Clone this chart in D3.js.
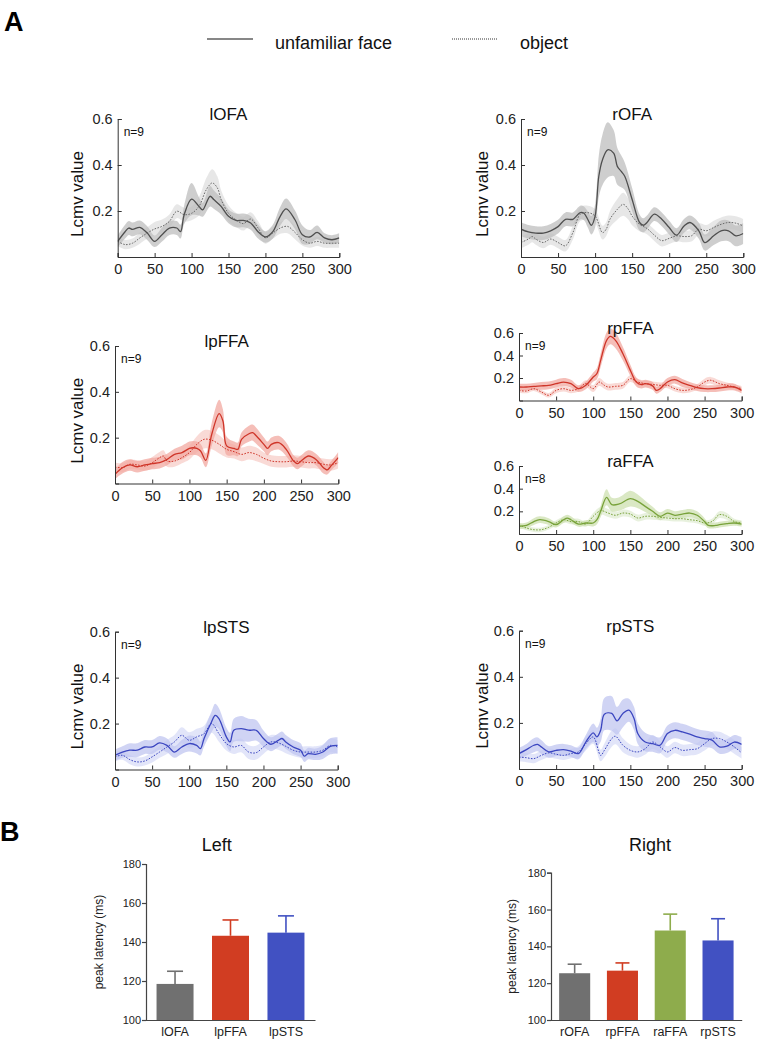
<!DOCTYPE html>
<html><head><meta charset="utf-8">
<script src="https://cdnjs.cloudflare.com/ajax/libs/d3/7.8.5/d3.min.js"></script>
<style>
body{margin:0;background:#fff;}
svg{display:block;font-family:"Liberation Sans",Arial,Helvetica,sans-serif;}
</style>
</head><body>
<svg id="c" width="766" height="1049"></svg>
<script>
// ---------- DATA ----------
const timeTicks = [0, 50, 100, 150, 200, 250, 300];
const lcmvTicks = [0.2, 0.4, 0.6];
const legendLabels = ["unfamiliar face", "object"];

// [time ms, mean, half-width of shaded band]
const lOFA_face = [[0,0.068,0.025],[10,0.11,0.03],[15,0.126,0.03],[20,0.12,0.03],[30,0.129,0.03],[40,0.104,0.03],[50,0.068,0.025],[60,0.097,0.03],[70,0.126,0.03],[80,0.126,0.03],[85,0.11,0.03],[90,0.184,0.04],[100,0.252,0.07],[110,0.22,0.04],[115,0.205,0.03],[125,0.264,0.045],[130,0.25,0.04],[140,0.22,0.035],[150,0.177,0.03],[160,0.159,0.03],[170,0.159,0.03],[180,0.148,0.03],[190,0.11,0.03],[200,0.087,0.025],[210,0.11,0.03],[220,0.177,0.04],[228,0.209,0.045],[240,0.162,0.04],[250,0.097,0.04],[260,0.087,0.03],[270,0.107,0.03],[280,0.083,0.02],[290,0.075,0.02],[300,0.083,0.02]];
const lOFA_obj = [[0,0.068,0.02],[10,0.054,0.02],[20,0.06,0.02],[30,0.083,0.025],[40,0.104,0.025],[50,0.122,0.03],[60,0.133,0.03],[70,0.155,0.03],[80,0.199,0.03],[90,0.184,0.03],[100,0.19,0.03],[110,0.22,0.04],[120,0.293,0.05],[128,0.322,0.06],[135,0.3,0.05],[140,0.25,0.04],[150,0.19,0.035],[160,0.162,0.03],[170,0.145,0.03],[180,0.165,0.03],[190,0.126,0.03],[200,0.083,0.025],[210,0.104,0.025],[220,0.126,0.025],[230,0.133,0.03],[240,0.107,0.03],[250,0.075,0.025],[260,0.06,0.02],[270,0.068,0.02],[280,0.06,0.02],[290,0.06,0.02],[300,0.06,0.02]];

const rOFA_face = [[0,0.121,0.03],[10,0.109,0.03],[20,0.104,0.03],[30,0.104,0.03],[40,0.114,0.03],[50,0.132,0.03],[60,0.164,0.03],[70,0.164,0.03],[80,0.193,0.03],[85,0.19,0.03],[90,0.164,0.035],[95,0.138,0.04],[100,0.178,0.05],[105,0.351,0.09],[110,0.423,0.11],[117,0.466,0.12],[125,0.452,0.1],[130,0.394,0.08],[135,0.373,0.07],[140,0.351,0.06],[150,0.25,0.05],[160,0.15,0.035],[165,0.138,0.03],[170,0.15,0.03],[180,0.186,0.03],[190,0.164,0.03],[200,0.128,0.03],[210,0.095,0.03],[220,0.135,0.03],[228,0.15,0.03],[240,0.114,0.035],[248,0.063,0.035],[260,0.092,0.04],[270,0.114,0.045],[280,0.114,0.045],[290,0.092,0.045],[300,0.102,0.045]];
const rOFA_obj = [[0,0.063,0.025],[10,0.078,0.025],[15,0.089,0.025],[20,0.078,0.025],[30,0.063,0.025],[40,0.078,0.025],[50,0.063,0.025],[60,0.049,0.025],[70,0.106,0.03],[80,0.186,0.03],[90,0.193,0.03],[100,0.178,0.03],[110,0.106,0.03],[115,0.121,0.03],[120,0.164,0.035],[130,0.207,0.045],[138,0.229,0.05],[145,0.207,0.045],[150,0.178,0.04],[160,0.142,0.03],[170,0.124,0.025],[180,0.095,0.025],[190,0.071,0.025],[200,0.081,0.025],[210,0.092,0.025],[220,0.089,0.025],[230,0.092,0.025],[240,0.121,0.025],[250,0.114,0.025],[260,0.128,0.03],[270,0.142,0.03],[280,0.15,0.03],[290,0.147,0.03],[300,0.135,0.03]];

const lpFFA_face = [[0,0.04,0.02],[10,0.069,0.025],[20,0.081,0.025],[30,0.073,0.025],[40,0.081,0.025],[50,0.087,0.025],[60,0.091,0.025],[70,0.105,0.025],[80,0.127,0.025],[90,0.135,0.03],[100,0.153,0.03],[105,0.156,0.03],[110,0.153,0.03],[115,0.142,0.03],[122,0.101,0.03],[130,0.215,0.05],[140,0.305,0.06],[145,0.273,0.05],[150,0.164,0.04],[160,0.153,0.03],[165,0.149,0.03],[170,0.193,0.03],[180,0.217,0.035],[185,0.222,0.035],[190,0.207,0.035],[200,0.171,0.03],[205,0.153,0.03],[210,0.171,0.03],[220,0.178,0.03],[230,0.149,0.03],[240,0.098,0.025],[245,0.087,0.025],[250,0.098,0.025],[260,0.12,0.025],[270,0.105,0.025],[280,0.069,0.025],[285,0.059,0.02],[290,0.076,0.02],[300,0.113,0.025]];
const lpFFA_obj = [[0,0.072,0.02],[10,0.069,0.02],[20,0.084,0.02],[30,0.081,0.02],[40,0.076,0.02],[50,0.091,0.025],[60,0.113,0.025],[65,0.12,0.025],[70,0.098,0.025],[80,0.098,0.025],[90,0.113,0.025],[100,0.135,0.03],[110,0.171,0.035],[120,0.193,0.04],[130,0.189,0.04],[140,0.171,0.04],[150,0.149,0.035],[160,0.139,0.03],[170,0.127,0.03],[180,0.135,0.03],[190,0.127,0.03],[200,0.11,0.025],[210,0.098,0.025],[220,0.095,0.025],[230,0.095,0.025],[240,0.098,0.025],[250,0.095,0.025],[260,0.091,0.025],[270,0.091,0.025],[280,0.084,0.025],[290,0.081,0.025],[300,0.091,0.025]];

const rpFFA_face = [[0,0.12,0.03],[10,0.12,0.03],[20,0.126,0.03],[30,0.13,0.035],[40,0.135,0.035],[50,0.15,0.035],[60,0.164,0.035],[70,0.15,0.035],[80,0.105,0.03],[90,0.135,0.035],[100,0.209,0.04],[105,0.24,0.05],[110,0.357,0.06],[118,0.535,0.07],[123,0.57,0.07],[130,0.535,0.07],[140,0.416,0.06],[150,0.268,0.05],[158,0.164,0.04],[165,0.141,0.035],[170,0.15,0.035],[180,0.13,0.035],[185,0.09,0.03],[190,0.105,0.03],[200,0.164,0.035],[210,0.185,0.035],[220,0.156,0.035],[230,0.135,0.03],[240,0.114,0.03],[250,0.105,0.03],[260,0.105,0.03],[270,0.111,0.03],[280,0.12,0.03],[290,0.12,0.03],[300,0.09,0.025]];
const rpFFA_obj = [[0,0.09,0.02],[10,0.084,0.02],[20,0.105,0.02],[30,0.076,0.02],[40,0.046,0.02],[50,0.09,0.025],[60,0.105,0.025],[70,0.09,0.025],[80,0.105,0.025],[90,0.15,0.03],[100,0.105,0.03],[108,0.164,0.035],[115,0.135,0.03],[120,0.12,0.03],[130,0.126,0.03],[140,0.135,0.03],[150,0.194,0.03],[160,0.164,0.03],[170,0.15,0.025],[180,0.143,0.025],[190,0.135,0.025],[200,0.135,0.025],[210,0.105,0.025],[220,0.09,0.025],[230,0.096,0.025],[240,0.12,0.025],[250,0.164,0.03],[258,0.18,0.03],[270,0.15,0.03],[280,0.135,0.025],[290,0.12,0.025],[300,0.105,0.025]];

const raFFA_face = [[0,0.068,0.025],[10,0.076,0.025],[20,0.11,0.03],[28,0.126,0.03],[40,0.11,0.03],[50,0.082,0.025],[60,0.126,0.03],[65,0.14,0.03],[70,0.126,0.03],[80,0.088,0.025],[90,0.097,0.025],[100,0.097,0.03],[105,0.126,0.04],[110,0.2,0.05],[118,0.324,0.07],[125,0.259,0.06],[135,0.265,0.06],[150,0.312,0.07],[160,0.288,0.06],[170,0.244,0.05],[180,0.2,0.04],[190,0.156,0.035],[200,0.185,0.035],[210,0.165,0.035],[220,0.176,0.035],[230,0.185,0.035],[240,0.165,0.035],[250,0.11,0.03],[255,0.076,0.025],[265,0.076,0.025],[270,0.082,0.025],[280,0.091,0.025],[290,0.097,0.025],[300,0.088,0.025]];
const raFFA_obj = [[0,0.082,0.02],[10,0.053,0.02],[20,0.038,0.02],[30,0.038,0.02],[40,0.059,0.02],[50,0.097,0.025],[60,0.126,0.025],[70,0.11,0.025],[80,0.11,0.025],[90,0.088,0.025],[100,0.156,0.03],[110,0.206,0.035],[120,0.185,0.035],[130,0.165,0.03],[140,0.185,0.03],[150,0.176,0.03],[160,0.141,0.03],[170,0.156,0.03],[180,0.156,0.03],[190,0.147,0.025],[200,0.141,0.025],[210,0.135,0.025],[220,0.135,0.025],[230,0.126,0.025],[240,0.118,0.025],[250,0.097,0.025],[260,0.11,0.025],[270,0.171,0.03],[280,0.156,0.03],[290,0.11,0.025],[300,0.097,0.025]];

const lpSTS_face = [[0,0.062,0.025],[10,0.076,0.025],[20,0.084,0.03],[30,0.084,0.03],[40,0.098,0.03],[50,0.098,0.03],[60,0.116,0.03],[70,0.105,0.03],[80,0.076,0.025],[90,0.098,0.03],[100,0.113,0.035],[110,0.105,0.035],[115,0.091,0.03],[120,0.135,0.035],[130,0.207,0.045],[135,0.236,0.05],[140,0.222,0.045],[150,0.142,0.04],[155,0.12,0.04],[160,0.171,0.05],[170,0.178,0.055],[180,0.171,0.05],[190,0.171,0.045],[200,0.135,0.035],[210,0.11,0.03],[220,0.127,0.03],[225,0.135,0.03],[230,0.12,0.03],[240,0.098,0.03],[250,0.084,0.03],[255,0.058,0.025],[260,0.069,0.025],[270,0.066,0.025],[280,0.076,0.03],[290,0.101,0.035],[300,0.105,0.035]];
const lpSTS_obj = [[0,0.055,0.02],[10,0.062,0.02],[20,0.043,0.02],[30,0.033,0.02],[40,0.037,0.02],[50,0.055,0.025],[60,0.076,0.025],[70,0.098,0.03],[80,0.12,0.03],[90,0.149,0.035],[100,0.127,0.035],[110,0.142,0.035],[120,0.156,0.035],[130,0.2,0.04],[140,0.156,0.035],[150,0.113,0.03],[160,0.098,0.03],[170,0.105,0.03],[180,0.076,0.03],[190,0.073,0.03],[200,0.098,0.03],[210,0.12,0.03],[220,0.116,0.03],[230,0.101,0.03],[240,0.084,0.025],[250,0.076,0.025],[260,0.076,0.025],[270,0.076,0.025],[280,0.084,0.025],[290,0.105,0.03],[300,0.098,0.03]];

const rpSTS_face = [[0,0.067,0.025],[10,0.084,0.025],[20,0.103,0.03],[25,0.107,0.03],[30,0.096,0.03],[40,0.074,0.025],[50,0.081,0.025],[60,0.084,0.025],[70,0.078,0.025],[80,0.067,0.025],[90,0.117,0.03],[100,0.157,0.04],[105,0.139,0.04],[110,0.168,0.05],[115,0.238,0.07],[125,0.241,0.075],[132,0.209,0.06],[140,0.241,0.06],[148,0.255,0.05],[155,0.219,0.05],[160,0.154,0.045],[170,0.117,0.04],[180,0.11,0.035],[190,0.103,0.035],[200,0.154,0.035],[210,0.168,0.035],[220,0.161,0.035],[230,0.151,0.035],[240,0.139,0.035],[250,0.132,0.035],[260,0.125,0.035],[270,0.096,0.03],[280,0.099,0.03],[290,0.117,0.03],[300,0.107,0.03]];
const rpSTS_obj = [[0,0.052,0.02],[10,0.049,0.02],[20,0.045,0.02],[30,0.059,0.02],[40,0.07,0.02],[50,0.064,0.02],[60,0.059,0.02],[70,0.067,0.02],[80,0.074,0.025],[90,0.11,0.03],[100,0.139,0.03],[110,0.059,0.025],[115,0.081,0.03],[125,0.132,0.035],[130,0.142,0.035],[140,0.103,0.03],[150,0.081,0.025],[160,0.074,0.025],[170,0.088,0.025],[180,0.117,0.03],[190,0.096,0.025],[200,0.074,0.025],[210,0.093,0.025],[220,0.081,0.025],[230,0.084,0.025],[240,0.088,0.025],[250,0.11,0.03],[260,0.132,0.03],[270,0.132,0.03],[280,0.117,0.03],[290,0.096,0.03],[300,0.07,0.025]];

// Panel B: peak latency (ms)
const leftRegions = ["lOFA", "lpFFA", "lpSTS"];
const leftLatency = [118.5, 143.2, 144.8];
const leftErr = [6.5, 8.1, 8.6];
const rightRegions = ["rOFA", "rpFFA", "raFFA", "rpSTS"];
const rightLatency = [125.4, 126.8, 148.6, 143.2];
const rightErr = [4.9, 4.2, 8.9, 11.8];
const latencyTicks = [100, 120, 140, 160, 180];

// ---------- STYLE / LAYOUT ----------
const palette = {
  gray:  {line:"#4f4f4f", obj:"#6a6a6a", band:"#bdbdbd", objBand:"#e4e4e4", bar:"#707070"},
  red:   {line:"#cf3529", obj:"#cf3529", band:"#f2a8a0", objBand:"#f8d6d2", bar:"#d13d22"},
  green: {line:"#78a23a", obj:"#78a23a", band:"#cde0b0", objBand:"#e6efda", bar:"#8eac4c"},
  blue:  {line:"#3b46c0", obj:"#3b46c0", band:"#c0c5f0", objBand:"#dfe2f8", bar:"#4151c2"}
};

const panels = [
  {name:"lOFA",  n:9, face:lOFA_face,  obj:lOFA_obj,  col:"gray",  x0:117.7, x1:339.3, yTop:119,   yBot:257,   ylab:true},
  {name:"rOFA",  n:9, face:rOFA_face,  obj:rOFA_obj,  col:"gray",  x0:521,   x1:743.3, yTop:119,   yBot:257,   ylab:true},
  {name:"lpFFA", n:9, face:lpFFA_face, obj:lpFFA_obj, col:"red",   x0:115,   x1:338.3, yTop:346,   yBot:483.5, ylab:true},
  {name:"rpFFA", n:9, face:rpFFA_face, obj:rpFFA_obj, col:"red",   x0:519,   x1:741.7, yTop:333,   yBot:400.5, ylab:false},
  {name:"raFFA", n:8, face:raFFA_face, obj:raFFA_obj, col:"green", x0:519,   x1:741.7, yTop:466,   yBot:534,   ylab:false},
  {name:"lpSTS", n:9, face:lpSTS_face, obj:lpSTS_obj, col:"blue",  x0:115,   x1:337.7, yTop:631.7, yBot:769.5, ylab:true},
  {name:"rpSTS", n:9, face:rpSTS_face, obj:rpSTS_obj, col:"blue",  x0:519,   x1:741.7, yTop:630.7, yBot:769,   ylab:true}
];

const svg = d3.select("#c");
const defs = svg.append("defs");

// Panel letters
svg.append("text").attr("x", 4).attr("y", 31).attr("font-size", 27).attr("font-weight", "bold").attr("fill","#000").text("A");
svg.append("text").attr("x", 0).attr("y", 841).attr("font-size", 27).attr("font-weight", "bold").attr("fill","#000").text("B");

// Legend
const leg = svg.append("g");
leg.append("line").attr("x1", 207).attr("x2", 253).attr("y1", 39).attr("y2", 39).attr("stroke", "#111").attr("stroke-width", 1.2);
leg.append("text").attr("x", 275).attr("y", 49).attr("font-size", 18).attr("fill","#111").text(legendLabels[0]);
leg.append("line").attr("x1", 452).attr("x2", 497).attr("y1", 39).attr("y2", 39).attr("stroke", "#333").attr("stroke-width", 1).attr("stroke-dasharray", "1,1");
leg.append("text").attr("x", 520).attr("y", 49).attr("font-size", 18).attr("fill","#111").text(legendLabels[1]);

panels.forEach((p, i) => {
  const c = palette[p.col];
  const x = d3.scaleLinear().domain([0, 300]).range([p.x0, p.x1]);
  const y = d3.scaleLinear().domain([0, 0.6]).range([p.yBot, p.yTop]);
  const g = svg.append("g");
  const cid = "clip" + i;
  defs.append("clipPath").attr("id", cid).append("rect")
    .attr("x", p.x0).attr("y", p.yTop - 20).attr("width", p.x1 - p.x0).attr("height", p.yBot - p.yTop + 20);
  const plot = g.append("g").attr("clip-path", `url(#${cid})`);
  const curve = d3.curveCatmullRom.alpha(0.5);
  const area = d3.area().x(d => x(d[0])).y0(d => y(d[1] - d[2])).y1(d => y(d[1] + d[2])).curve(curve);
  const line = d3.line().x(d => x(d[0])).y(d => y(d[1])).curve(curve);

  plot.append("path").datum(p.obj).attr("d", area).attr("fill", c.objBand).attr("opacity", 0.9);
  plot.append("path").datum(p.face).attr("d", area).attr("fill", c.band).attr("opacity", 0.75);
  plot.append("path").datum(p.obj).attr("d", line).attr("fill", "none").attr("stroke", c.obj)
    .attr("stroke-width", 1).attr("stroke-dasharray", "1.6,1.4");
  plot.append("path").datum(p.face).attr("d", line).attr("fill", "none").attr("stroke", c.line)
    .attr("stroke-width", 1.3);

  const yAxis = d3.axisLeft(y).tickValues(lcmvTicks).tickSize(-4).tickPadding(5).tickFormat(d3.format(".1f"));
  const xAxis = d3.axisBottom(x).tickValues(timeTicks).tickSize(-4).tickPadding(7);
  const ya = g.append("g").attr("transform", `translate(${p.x0},0)`).call(yAxis);
  const xa = g.append("g").attr("transform", `translate(0,${p.yBot})`).call(xAxis);
  [ya, xa].forEach(a => {
    a.select(".domain").attr("stroke", "#333").attr("stroke-width", 1);
    a.selectAll(".tick line").attr("stroke", "#333");
    a.selectAll(".tick text").attr("font-size", 14.5).attr("fill", "#222")
      .attr("font-family", '"Liberation Sans",Arial,sans-serif');
  });
  xa.selectAll(".tick text").attr("dy", "0.71em");

  g.append("text").attr("x", (p.x0 + p.x1) / 2).attr("y", p.yTop - 5).attr("dy", "0.35em")
    .attr("text-anchor", "middle").attr("font-size", 17).attr("fill", "#111").text(p.name);
  g.append("text").attr("x", p.x0 + 6).attr("y", p.yTop + 17).attr("font-size", 12)
    .attr("fill", "#111").text("n=" + p.n);
  if (p.ylab) {
    const cy = (p.yTop + p.yBot) / 2 + 6;
    const cx = p.x0 < 300 ? 76.7 : 482;
    g.append("text").attr("transform", `translate(${cx},${cy}) rotate(-90)`).attr("dy", "0.35em")
      .attr("text-anchor", "middle").attr("font-size", 17).attr("fill", "#111").text("Lcmv value");
  }
});

// ---------- Bar charts ----------
function barChart(cfg) {
  const g = svg.append("g");
  const x = d3.scaleBand().domain(cfg.cats).range([cfg.x0, cfg.x1]).paddingInner(cfg.pi).paddingOuter(cfg.po);
  const y = d3.scaleLinear().domain([100, 180]).range([cfg.yBot, cfg.yTop]);
  g.selectAll("rect.bar").data(cfg.cats).enter().append("rect")
    .attr("x", d => x(d)).attr("width", x.bandwidth())
    .attr("y", (d, i) => y(cfg.vals[i])).attr("height", (d, i) => cfg.yBot - y(cfg.vals[i]))
    .attr("fill", (d, i) => palette[cfg.cols[i]].bar);
  cfg.cats.forEach((d, i) => {
    const cx = x(d) + x.bandwidth() / 2;
    const col = palette[cfg.cols[i]].bar;
    g.append("line").attr("x1", cx).attr("x2", cx).attr("y1", y(cfg.vals[i])).attr("y2", y(cfg.vals[i] + cfg.errs[i]))
      .attr("stroke", col).attr("stroke-width", 1.6);
    g.append("line").attr("x1", cx - cfg.cap / 2).attr("x2", cx + cfg.cap / 2)
      .attr("y1", y(cfg.vals[i] + cfg.errs[i])).attr("y2", y(cfg.vals[i] + cfg.errs[i]))
      .attr("stroke", col).attr("stroke-width", 1.6);
  });
  const ya = g.append("g").attr("transform", `translate(${cfg.x0},0)`)
    .call(d3.axisLeft(y).tickValues(latencyTicks).tickSize(4).tickPadding(1));
  const xa = g.append("g").attr("transform", `translate(0,${cfg.yBot})`)
    .call(d3.axisBottom(x).tickSize(0).tickPadding(7));
  [ya, xa].forEach(a => {
    a.select(".domain").attr("stroke", "#444").attr("stroke-width", 1.2);
    a.selectAll(".tick line").attr("stroke", "#444").attr("stroke-width", 1.2);
    a.selectAll(".tick text").attr("fill", "#222").attr("font-family", '"Liberation Sans",Arial,sans-serif');
  });
  ya.selectAll(".tick text").attr("font-size", 11);
  xa.selectAll(".tick text").attr("font-size", 12.5);
  g.append("text").attr("x", cfg.titleX).attr("y", 845).attr("dy", "0.35em").attr("text-anchor", "middle")
    .attr("font-size", 18).attr("fill", "#111").text(cfg.title);
  g.append("text").attr("transform", `translate(${cfg.labX},${(cfg.yTop + cfg.yBot) / 2}) rotate(-90)`)
    .attr("dy", "0.35em").attr("text-anchor", "middle").attr("font-size", 12).attr("fill", "#222")
    .text("peak latency (ms)");
}

barChart({cats:leftRegions, vals:leftLatency, errs:leftErr, cols:["gray","red","blue"],
  x0:146, x1:315, yTop:864, yBot:1020, pi:0.333, po:0.19, cap:16, title:"Left", titleX:216.7, labX:98.3});
barChart({cats:rightRegions, vals:rightLatency, errs:rightErr, cols:["gray","red","green","blue"],
  x0:551, x1:741.7, yTop:872.7, yBot:1020, pi:0.35, po:0.17, cap:14, title:"Right", titleX:650, labX:511.7});
</script>
</body></html>
